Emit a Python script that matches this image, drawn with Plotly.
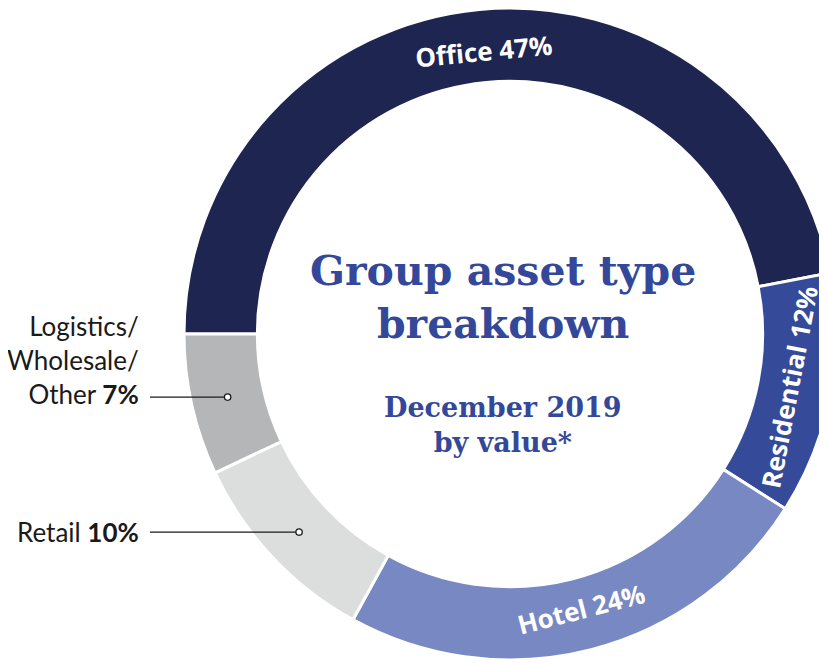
import numpy as np
import plotly.graph_objects as go

categories = ["Office", "Residential", "Hotel", "Retail", "Logistics/<br>Wholesale/<br>Other"]
values = [47, 12, 24, 10, 7]
colors = ["#1e2551", "#354a98", "#7788c3", "#dcdedd", "#b5b6b8"]
inside_labels = {0: "<b>Office 47%</b>", 1: "<b>Residential 12%</b>", 2: "<b>Hotel 24%</b>"}
outside_labels = {3: "Retail <b>10%</b>", 4: "Logistics/<br>Wholesale/<br>Other <b>7%</b>"}

# page offset (body margin) compensation: work in visible-page pixels
OFF = 8
W, H = 840, 663
CX, CY, R = 510, 334, 326
HOLE = 0.775


def px2paper(x, y):
    return (x - OFF) / W, 1 - (y - OFF) / H


fig = go.Figure()
dx0, dy1 = px2paper(CX - R, CY - R)
dx1, dy0 = px2paper(CX + R, CY + R)
fig.add_trace(go.Pie(
    labels=categories,
    values=values,
    textinfo="none",
    marker=dict(colors=colors, line=dict(color="white", width=3)),
    hole=HOLE,
    sort=False,
    direction="clockwise",
    rotation=-90,
    showlegend=False,
    hoverinfo="label+percent",
    domain=dict(x=[dx0, dx1], y=[max(dy0, 0), min(dy1, 1)]),
))

total = sum(values)
start = -90.0
mid_r = R * (1 + HOLE) / 2
shapes = []
annotations = []
cum = 0
for i, v in enumerate(values):
    a0 = start + cum / total * 360
    cum += v
    a1 = start + cum / total * 360
    am_deg = (a0 + a1) / 2
    am = np.radians(am_deg)
    if i in inside_labels:
        lr = mid_r - 5
        lx = CX + lr * np.sin(am)
        ly = CY - lr * np.cos(am)
        ang = am_deg
        while ang > 90:
            ang -= 180
        while ang < -90:
            ang += 180
        x, y = px2paper(lx, ly)
        annotations.append(dict(text=inside_labels[i], xref="paper", yref="paper",
                                x=x, y=y, xanchor="center", yanchor="middle",
                                textangle=ang, showarrow=False,
                                font=dict(family="Open Sans", size=26, color="white")))
    if i in outside_labels:
        px = CX + mid_r * np.sin(am)
        py = CY - mid_r * np.cos(am)
        xe = 150
        x0, y0 = px2paper(xe, py)
        x1, _ = px2paper(px, py)
        shapes.append(dict(type="line", xref="paper", yref="paper",
                           x0=x0, x1=x1, y0=y0, y1=y0,
                           line=dict(color="#1a1a1a", width=1.3)))
        cx0, cy1 = px2paper(px - 3.2, py - 3.2)
        cx1, cy0 = px2paper(px + 3.2, py + 3.2)
        shapes.append(dict(type="circle", xref="paper", yref="paper",
                           x0=cx0, x1=cx1, y0=cy0, y1=cy1,
                           fillcolor="white", line=dict(color="#1a1a1a", width=1.3)))
        tx, ty = px2paper(141, py)
        annotations.append(dict(text=outside_labels[i], xref="paper", yref="paper",
                                x=tx, y=ty, xanchor="right",
                                yanchor="bottom" if i == 4 else "middle",
                                yshift=-15 if i == 4 else 0,
                                align="right", showarrow=False,
                                font=dict(family="Lato", size=26, color="#1a1a1a")))

title_color = "#34489a"
tx, ty = px2paper(CX - 7, 297)
annotations.append(dict(text="<b>Group asset type<br>breakdown</b>", xref="paper", yref="paper",
                        x=tx, y=ty, showarrow=False, align="center",
                        font=dict(family="DejaVu Serif", size=41, color=title_color)))
tx, ty = px2paper(CX - 7, 425)
annotations.append(dict(text="<b>December 2019<br>by value*</b>", xref="paper", yref="paper",
                        x=tx, y=ty, showarrow=False, align="center",
                        font=dict(family="DejaVu Serif", size=27, color=title_color)))

fig.update_layout(
    width=W, height=H,
    margin=dict(l=0, r=0, t=0, b=0),
    paper_bgcolor="white", plot_bgcolor="white",
    shapes=shapes, annotations=annotations,
)
fig.write_html("out.html")
